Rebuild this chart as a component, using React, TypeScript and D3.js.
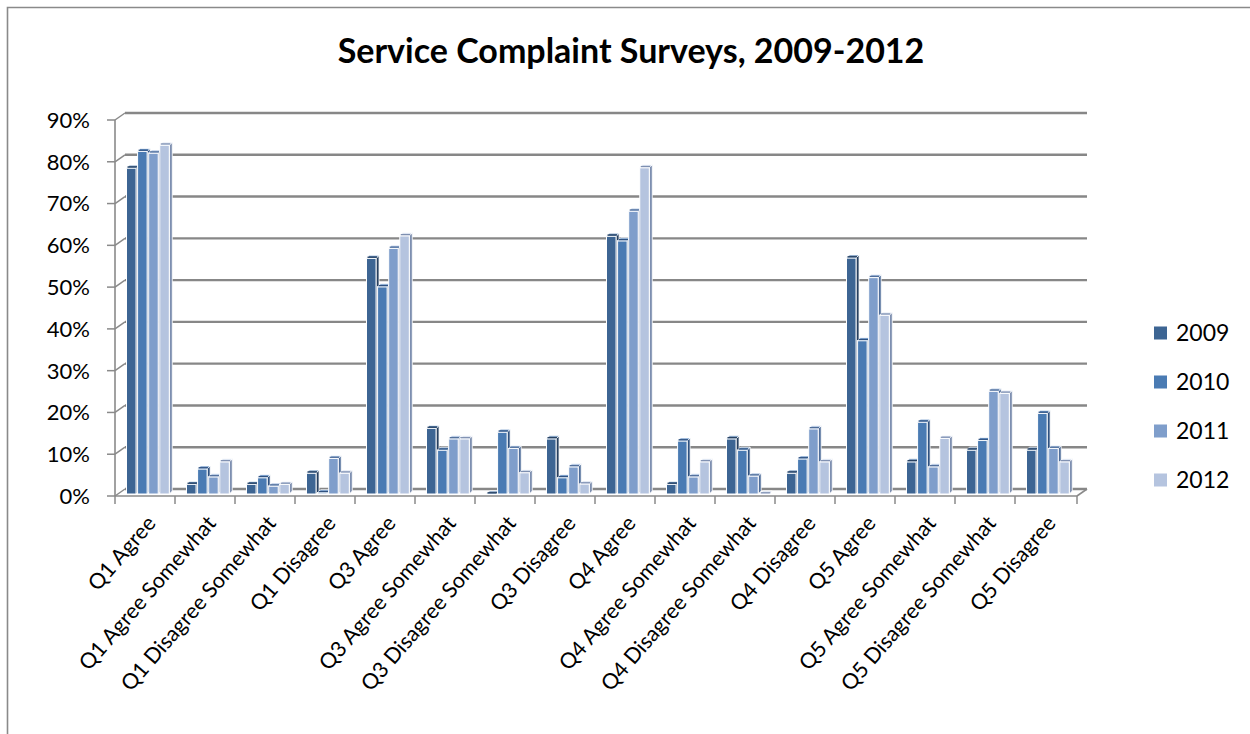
import React from "react";
import * as d3 from "d3";

const categories = [
  "Q1 Agree",
  "Q1 Agree Somewhat",
  "Q1 Disagree Somewhat",
  "Q1 Disagree",
  "Q3 Agree",
  "Q3 Agree Somewhat",
  "Q3 Disagree Somewhat",
  "Q3 Disagree",
  "Q4 Agree",
  "Q4 Agree Somewhat",
  "Q4 Disagree Somewhat",
  "Q4 Disagree",
  "Q5 Agree",
  "Q5 Agree Somewhat",
  "Q5 Disagree Somewhat",
  "Q5 Disagree",
];

const years = ["2009", "2010", "2011", "2012"];

const values2009 = [78, 2.3, 2.3, 5, 56.4, 15.7, 0, 13.2, 61.7, 2.3, 13.2, 5, 56.5, 7.7, 10.5, 10.5];
const values2010 = [82, 6, 3.9, 0.3, 49.6, 10.5, 14.8, 3.9, 60.6, 12.7, 10.5, 8.4, 36.7, 17.2, 12.8, 19.3];
const values2011 = [81.6, 4.1, 1.9, 8.5, 58.8, 13.2, 10.9, 6.5, 67.7, 4.1, 4.3, 15.6, 51.8, 6.5, 24.6, 10.9];
const values2012 = [83.5, 7.7, 2.3, 5, 61.8, 13.2, 5.1, 2.4, 78.1, 7.7, 0, 7.7, 42.8, 13.3, 24.1, 7.7];

const yTicks = [0, 10, 20, 30, 40, 50, 60, 70, 80, 90];

const seriesValues = [values2009, values2010, values2011, values2012];

const frontColors = ["#3d6593", "#4a7bb3", "#7f9ecb", "#b5c4df"];
const topColors = ["#5a82b0", "#6f98c9", "#a3bbdd", "#d3ddee"];
const sideColors = ["#263f5e", "#2f5180", "#4f6d99", "#7e8fb0"];

const FONT = "Lato, 'Open Sans', sans-serif";

export default function App() {
  const W = 1250;
  const H = 734;

  const x = d3.scaleBand<string>().domain(categories).range([115, 1075]);
  const inner = d3
    .scaleBand<string>()
    .domain(years)
    .range([11.5, 54.3])
    .paddingInner(0.14)
    .paddingOuter(0);

  const yFront = d3.scaleLinear().domain([0, 90]).range([496, 120]);
  const yBack = d3.scaleLinear().domain([0, 90]).range([489, 113]);
  const yBar = d3.scaleLinear().domain([0, 90]).range([494, 118]);

  const dx = 10;
  const d = 3;
  const bw = inner.bandwidth();

  const bars: React.ReactNode[] = [];
  categories.forEach((c, ci) => {
    years.forEach((yr, si) => {
      const v = seriesValues[si][ci];
      const x0 = (x(c) as number) + (inner(yr) as number);
      const x1 = x0 + bw;
      const yt = yBar(v);
      const yb = yBar(0);
      bars.push(
        <g key={`${ci}-${si}`}>
          {v > 0 && (
            <path
              d={`M${x1},${yt} L${x1 + d},${yt - d} L${x1 + d},${yb - d} L${x1},${yb} Z`}
              fill={sideColors[si]}
              stroke="#ffffff"
              strokeWidth={0.8}
            />
          )}
          {v > 0 && (
            <rect x={x0} y={yt} width={bw} height={yb - yt} fill={frontColors[si]} stroke="#ffffff" strokeWidth={1} />
          )}
          <path
            d={`M${x0},${yt} L${x1},${yt} L${x1 + d},${yt - d} L${x0 + d},${yt - d} Z`}
            fill={topColors[si]}
            stroke="#ffffff"
            strokeWidth={0.8}
          />
          <path d={`M${x0 + 1},${yt - 1.2} L${x1 + 1},${yt - 1.2}`} stroke={sideColors[si]} strokeWidth={1.2} />
        </g>
      );
    });
  });

  const xLeft = 115;
  const xRight = 1077;

  return (
    <svg
      width={W}
      height={H}
      style={{ position: "absolute", left: 0, top: 0, background: "#ffffff" }}
      fontFamily={FONT}
    >
      <rect x={0} y={0} width={W} height={H} fill="#ffffff" />
      {/* outer frame */}
      <path d={`M7.5,${H + 5} V7.5 H${W + 5}`} fill="none" stroke="#8a8a8a" strokeWidth={1.6} />

      {/* title */}
      <text x={631} y={63} textAnchor="middle" fontSize={34} fontWeight={700} fill="#000">
        Service Complaint Surveys, 2009-2012
      </text>

      {/* back wall gridlines */}
      {yTicks.map((t) => (
        <line
          key={`g${t}`}
          x1={xLeft + dx}
          x2={xRight + dx}
          y1={yBack(t)}
          y2={yBack(t)}
          stroke="#878787"
          strokeWidth={2.4}
        />
      ))}
      {/* side wall diagonals */}
      {yTicks.map((t) => (
        <line
          key={`s${t}`}
          x1={xLeft}
          x2={xLeft + dx}
          y1={yFront(t)}
          y2={yBack(t)}
          stroke="#8a8a8a"
          strokeWidth={1.5}
        />
      ))}
      {/* y axis */}
      <line x1={xLeft} x2={xLeft} y1={yFront(90)} y2={yFront(0)} stroke="#8a8a8a" strokeWidth={1.6} />
      {yTicks.map((t) => (
        <g key={`yt${t}`}>
          <line x1={xLeft - 8} x2={xLeft} y1={yFront(t)} y2={yFront(t)} stroke="#8a8a8a" strokeWidth={1.5} />
          <text x={90} y={yFront(t)} dy="0.36em" textAnchor="end" fontSize={22} fill="#000">
            {t}%
          </text>
        </g>
      ))}

      {/* floor front edge */}
      <line x1={xLeft} x2={xRight} y1={yFront(0)} y2={yFront(0)} stroke="#8a8a8a" strokeWidth={1.6} />
      <line x1={xRight} x2={xRight + dx} y1={yFront(0)} y2={yBack(0)} stroke="#8a8a8a" strokeWidth={1.6} />
      {categories.map((c) => (
        <line
          key={`xt${c}`}
          x1={x(c) as number}
          x2={x(c) as number}
          y1={yFront(0)}
          y2={yFront(0) + 8}
          stroke="#8a8a8a"
          strokeWidth={1.5}
        />
      ))}
      <line x1={xRight} x2={xRight} y1={yFront(0)} y2={yFront(0) + 8} stroke="#8a8a8a" strokeWidth={1.5} />

      {bars}

      {/* x labels */}
      {categories.map((c) => {
        const cx = (x(c) as number) + x.bandwidth() / 2 + 12;
        const cy = 524;
        return (
          <text
            key={`xl${c}`}
            x={cx}
            y={cy}
            textAnchor="end"
            fontSize={21.5}
            fill="#000"
            transform={`rotate(-49, ${cx}, ${cy})`}
          >
            {c}
          </text>
        );
      })}

      {/* legend */}
      {years.map((yr, i) => {
        const ly = 333 + i * 49;
        return (
          <g key={`lg${yr}`}>
            <rect x={1154} y={ly - 6.5} width={13} height={13} fill={frontColors[i]} />
            <text x={1176} y={ly} dy="0.36em" fontSize={23} fill="#000">
              {yr}
            </text>
          </g>
        );
      })}
    </svg>
  );
}
